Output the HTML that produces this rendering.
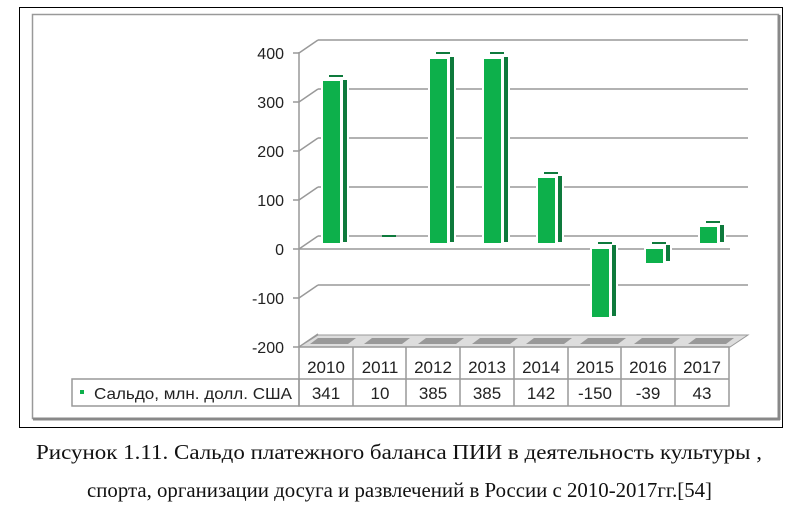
<!DOCTYPE html>
<html><head><meta charset="utf-8"><style>
body{margin:0;background:#fff;width:800px;height:511px;overflow:hidden}
svg{display:block}
.t{font-family:"Liberation Sans","DejaVu Sans",sans-serif;font-size:16px;fill:#222}
.c{font-family:"Liberation Serif",serif;font-size:21px;fill:#111}
</style></head><body>
<svg width="800" height="511" viewBox="0 0 800 511">
<rect x="19.5" y="7.5" width="763" height="420" fill="#fff" stroke="#000" stroke-width="1"/>
<rect x="32.5" y="14.5" width="746" height="404" fill="#fff" stroke="#999" stroke-width="1.5"/>
<line x1="779" y1="15" x2="779" y2="420" stroke="#888" stroke-width="3"/>
<line x1="33" y1="419" x2="780" y2="419" stroke="#888" stroke-width="3"/>
<g stroke="#999" stroke-width="1.5" fill="none">
<line x1="318" y1="40" x2="748" y2="40"/>
<line x1="318" y1="89" x2="748" y2="89"/>
<line x1="318" y1="138" x2="748" y2="138"/>
<line x1="318" y1="187" x2="748" y2="187"/>
<line x1="318" y1="236" x2="748" y2="236"/>
<line x1="318" y1="285" x2="748" y2="285"/>
<path d="M299 53 L318 40 M299 102 L318 89 M299 151 L318 138 M299 200 L318 187 M299 249 L318 236 M299 298 L318 285 M299 347 L318 334"/>
<line x1="299" y1="249" x2="730" y2="249"/>
<line x1="299" y1="52" x2="299" y2="347"/>
<path d="M293 53H299M293 102H299M293 151H299M293 200H299M293 249H299M293 298H299M293 347H299"/>
</g>
<path d="M318 335 L748 335 L730 347 L299 347 Z" fill="#ddd" stroke="#999"/>
<g fill="#999">
<path d="M318 338 h38 l-8 6 h-38z"/><path d="M372 338 h38 l-8 6 h-38z"/><path d="M426 338 h38 l-8 6 h-38z"/><path d="M480 338 h38 l-8 6 h-38z"/><path d="M534 338 h38 l-8 6 h-38z"/><path d="M588 338 h38 l-8 6 h-38z"/><path d="M642 338 h38 l-8 6 h-38z"/><path d="M696 338 h38 l-8 6 h-38z"/>
</g>
<g>
<rect x="321" y="73" width="28" height="172" fill="#fff"/>
<rect x="323" y="81" width="17" height="162" fill="#0db04b"/><rect x="343" y="80" width="4" height="162" fill="#0e7a3c"/><rect x="329" y="75" width="14" height="2" fill="#0e7a3c"/>
<rect x="382" y="235" width="14" height="2" fill="#0e7a3c"/>
<rect x="428" y="52" width="28" height="193" fill="#fff"/>
<rect x="430" y="59" width="17" height="184" fill="#0db04b"/><rect x="450" y="57" width="4" height="185" fill="#0e7a3c"/><rect x="436" y="52" width="14" height="2" fill="#0e7a3c"/>
<rect x="482" y="52" width="28" height="193" fill="#fff"/>
<rect x="484" y="59" width="17" height="184" fill="#0db04b"/><rect x="504" y="57" width="4" height="185" fill="#0e7a3c"/><rect x="490" y="52" width="14" height="2" fill="#0e7a3c"/>
<rect x="536" y="170" width="28" height="75" fill="#fff"/>
<rect x="538" y="178" width="17" height="65" fill="#0db04b"/><rect x="558" y="176" width="4" height="66" fill="#0e7a3c"/><rect x="544" y="172" width="14" height="2" fill="#0e7a3c"/>
<rect x="590" y="240" width="28" height="80" fill="#fff"/>
<rect x="592" y="249" width="17" height="68" fill="#0db04b"/><rect x="612" y="245" width="4" height="71" fill="#0e7a3c"/><rect x="598" y="242" width="14" height="2" fill="#0e7a3c"/>
<rect x="644" y="240" width="28" height="25" fill="#fff"/>
<rect x="646" y="249" width="17" height="14" fill="#0db04b"/><rect x="666" y="245" width="4" height="16" fill="#0e7a3c"/><rect x="652" y="242" width="14" height="2" fill="#0e7a3c"/>
<rect x="698" y="218" width="28" height="27" fill="#fff"/>
<rect x="700" y="227" width="17" height="16" fill="#0db04b"/><rect x="720" y="225" width="4" height="17" fill="#0e7a3c"/><rect x="706" y="221" width="14" height="2" fill="#0e7a3c"/>
</g>
<g class="t" text-anchor="end">
<text x="284" y="59">400</text><text x="284" y="108">300</text><text x="284" y="157">200</text><text x="284" y="206">100</text><text x="284" y="255">0</text><text x="284" y="304">-100</text><text x="284" y="353">-200</text>
</g>
<g stroke="#999" stroke-width="1.5" fill="none">
<rect x="72" y="379" width="227" height="27"/>
<rect x="299" y="347" width="430" height="59"/>
<line x1="299" y1="379" x2="729" y2="379"/>
<path d="M353 347V406M406 347V406M460 347V406M514 347V406M568 347V406M621 347V406M675 347V406"/>
</g>
<rect x="80" y="390" width="4" height="4" fill="#0db04b"/>
<g class="t" text-anchor="middle" style="font-size:17px">
<text x="326" y="373">2010</text><text x="380" y="373">2011</text><text x="433" y="373">2012</text><text x="487" y="373">2013</text><text x="541" y="373">2014</text><text x="595" y="373">2015</text><text x="648" y="373">2016</text><text x="702" y="373">2017</text>
<text x="326" y="399">341</text><text x="380" y="399">10</text><text x="433" y="399">385</text><text x="487" y="399">385</text><text x="541" y="399">142</text><text x="595" y="399">-150</text><text x="648" y="399">-39</text><text x="702" y="399">43</text>
</g>
<text class="t" x="94" y="399" textLength="198" lengthAdjust="spacingAndGlyphs">Сальдо, млн. долл. США</text>
<text class="c" x="36" y="459" textLength="726" lengthAdjust="spacingAndGlyphs">Рисунок 1.11. Сальдо платежного баланса ПИИ в деятельность культуры ,</text>
<text class="c" x="87" y="497" textLength="625" lengthAdjust="spacingAndGlyphs">спорта, организации досуга и развлечений в России с 2010-2017гг.[54]</text>
</svg>
</body></html>
